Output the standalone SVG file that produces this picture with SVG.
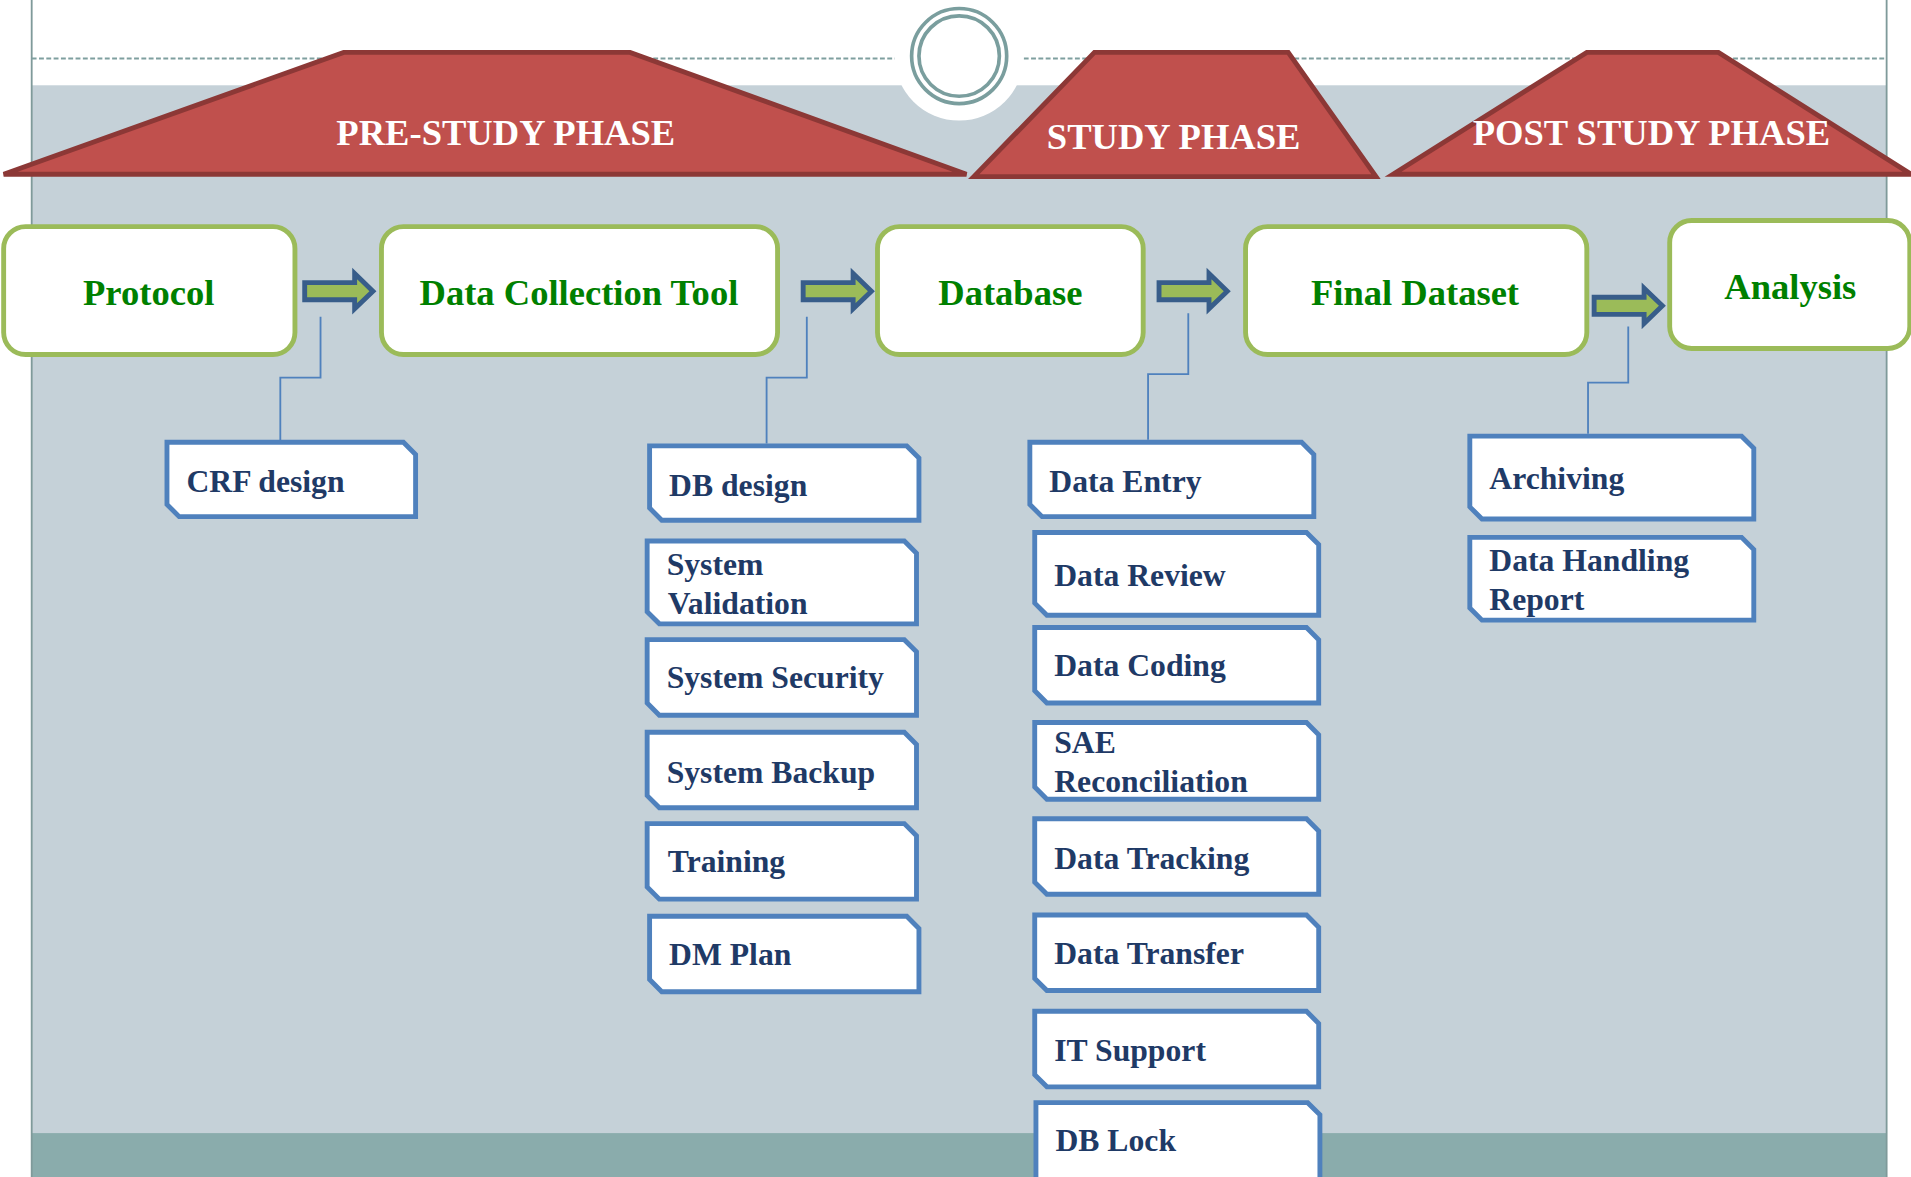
<svg xmlns="http://www.w3.org/2000/svg" width="1911" height="1177" viewBox="0 0 1911 1177">
<style>
.phase{fill:#C0504D;stroke:#8C3836;stroke-width:4;stroke-linejoin:miter}
.phtxt{font-family:"Liberation Serif","Times New Roman",serif;font-weight:bold;font-size:30px;fill:#FFFFFF;text-anchor:middle}
.gbox{fill:#FFFFFF;stroke:#9BBB59;stroke-width:4}
.gtxt{font-family:"Liberation Serif","Times New Roman",serif;font-weight:bold;font-size:30px;fill:#008000;text-anchor:middle}
.bbox{fill:#FFFFFF;stroke:#4F81BD;stroke-width:4;stroke-linejoin:miter}
.btxt{font-family:"Liberation Serif","Times New Roman",serif;font-weight:bold;font-size:26px;fill:#1F3A66}
.conn{fill:none;stroke:#4F81BD;stroke-width:1.5}
.arrow{fill:#9BBB59;stroke:#385D8A;stroke-width:4;stroke-linejoin:miter}
</style>
<defs>
<path id="blk" class="arrow" d="M0,-7 H41 V-14.5 L56,0 L41,14.5 V7 H0 Z"/>
</defs>
<g transform="scale(1.21875 1.2184)">
<g id="background">
<rect x="0" y="0" width="1568" height="970" fill="#FFFFFF"/>
<rect x="26" y="70" width="1522" height="900" fill="#C5D1D8"/>
<rect x="26" y="930" width="1522" height="40" fill="#8AACAC"/>
<line x1="26" y1="0" x2="26" y2="970" stroke="#7F9A9A" stroke-width="1.5"/>
<line x1="1548" y1="0" x2="1548" y2="970" stroke="#7F9A9A" stroke-width="1.5"/>
<line x1="26" y1="48" x2="735" y2="48" stroke="#7F9F9F" stroke-width="1.5" stroke-dasharray="4 2"/>
<line x1="840" y1="48" x2="1548" y2="48" stroke="#7F9F9F" stroke-width="1.5" stroke-dasharray="4 2"/>
<circle cx="787" cy="46" r="53" fill="#FFFFFF"/>
<circle cx="787" cy="46" r="39" fill="none" stroke="#7A9E9E" stroke-width="3"/>
<circle cx="787" cy="46" r="33" fill="none" stroke="#7A9E9E" stroke-width="3"/>
</g>
<g id="phase-pre">
<polygon class="phase" points="3,143 282,43 517,43 793,143"/>
<text class="phtxt" x="415" y="119">PRE-STUDY PHASE</text>
</g>
<g id="phase-study">
<polygon class="phase" points="799,145 898,43 1057,43 1129,145"/>
<text class="phtxt" x="963" y="122">STUDY PHASE</text>
</g>
<g id="phase-post">
<polygon class="phase" points="1143,143 1302,43 1410,43 1568,143"/>
<text class="phtxt" x="1355" y="119">POST STUDY PHASE</text>
</g>
<g id="connectors">
<use href="#blk" x="250" y="239"/>
<use href="#blk" x="659" y="239"/>
<use href="#blk" x="951" y="239"/>
<use href="#blk" x="1308" y="251"/>
<polyline class="conn" points="263,260 263,310 230,310 230,362"/>
<polyline class="conn" points="662,260 662,310 629,310 629,364"/>
<polyline class="conn" points="975,257 975,307 942,307 942,361"/>
<polyline class="conn" points="1336,268 1336,314 1303,314 1303,356"/>
</g>
<g id="protocol"><rect class="gbox" x="3" y="186" width="239" height="105" rx="18"/><text class="gtxt" x="122" y="250">Protocol</text></g>
<g id="data-collection-tool"><rect class="gbox" x="313" y="186" width="325" height="105" rx="18"/><text class="gtxt" x="475" y="250">Data Collection Tool</text></g>
<g id="database"><rect class="gbox" x="720" y="186" width="218" height="105" rx="18"/><text class="gtxt" x="829" y="250">Database</text></g>
<g id="final-dataset"><rect class="gbox" x="1022" y="186" width="280" height="105" rx="18"/><text class="gtxt" x="1161" y="250">Final Dataset</text></g>
<g id="analysis"><rect class="gbox" x="1370" y="181" width="197" height="105" rx="18"/><text class="gtxt" x="1469" y="245">Analysis</text></g>

<g id="crf-design"><path class="bbox" d="M137,363 H331 L341,373 V424 H147 L137,414 Z"/><text class="btxt" x="153" y="404">CRF design</text></g>
<g id="db-design"><path class="bbox" d="M533,366 H744 L754,376 V427 H543 L533,417 Z"/><text class="btxt" x="549" y="407">DB design</text></g>
<g id="system-validation"><path class="bbox" d="M531,444 H742 L752,454 V512 H541 L531,502 Z"/><text class="btxt" x="547" y="472">System</text><text class="btxt" x="548" y="504">Validation</text></g>
<g id="system-security"><path class="bbox" d="M531,525 H742 L752,535 V587 H541 L531,577 Z"/><text class="btxt" x="547" y="565">System Security</text></g>
<g id="system-backup"><path class="bbox" d="M531,601 H742 L752,611 V663 H541 L531,653 Z"/><text class="btxt" x="547" y="643">System Backup</text></g>
<g id="training"><path class="bbox" d="M531,676 H742 L752,686 V738 H541 L531,728 Z"/><text class="btxt" x="548" y="716">Training</text></g>
<g id="dm-plan"><path class="bbox" d="M533,752 H744 L754,762 V814 H543 L533,804 Z"/><text class="btxt" x="549" y="792">DM Plan</text></g>

<g id="data-entry"><path class="bbox" d="M845,363 H1068 L1078,373 V424 H855 L845,414 Z"/><text class="btxt" x="861" y="404">Data Entry</text></g>
<g id="data-review"><path class="bbox" d="M849,437 H1072 L1082,447 V505 H859 L849,495 Z"/><text class="btxt" x="865" y="481">Data Review</text></g>
<g id="data-coding"><path class="bbox" d="M849,515 H1072 L1082,525 V577 H859 L849,567 Z"/><text class="btxt" x="865" y="555">Data Coding</text></g>
<g id="sae-reconciliation"><path class="bbox" d="M849,593 H1072 L1082,603 V656 H859 L849,646 Z"/><text class="btxt" x="865" y="618">SAE</text><text class="btxt" x="865" y="650">Reconciliation</text></g>
<g id="data-tracking"><path class="bbox" d="M849,672 H1072 L1082,682 V734 H859 L849,724 Z"/><text class="btxt" x="865" y="713">Data Tracking</text></g>
<g id="data-transfer"><path class="bbox" d="M849,751 H1072 L1082,761 V813 H859 L849,803 Z"/><text class="btxt" x="865" y="791">Data Transfer</text></g>
<g id="it-support"><path class="bbox" d="M849,830 H1072 L1082,840 V892 H859 L849,882 Z"/><text class="btxt" x="865" y="871">IT Support</text></g>
<g id="db-lock"><path class="bbox" d="M850,905 H1073 L1083,915 V980 H860 L850,970 Z"/><text class="btxt" x="866" y="945">DB Lock</text></g>

<g id="archiving"><path class="bbox" d="M1206,358 H1429 L1439,368 V426 H1216 L1206,416 Z"/><text class="btxt" x="1222" y="401">Archiving</text></g>
<g id="data-handling-report"><path class="bbox" d="M1206,441 H1429 L1439,451 V509 H1216 L1206,499 Z"/><text class="btxt" x="1222" y="469">Data Handling</text><text class="btxt" x="1222" y="501">Report</text></g>
</g>
</svg>
